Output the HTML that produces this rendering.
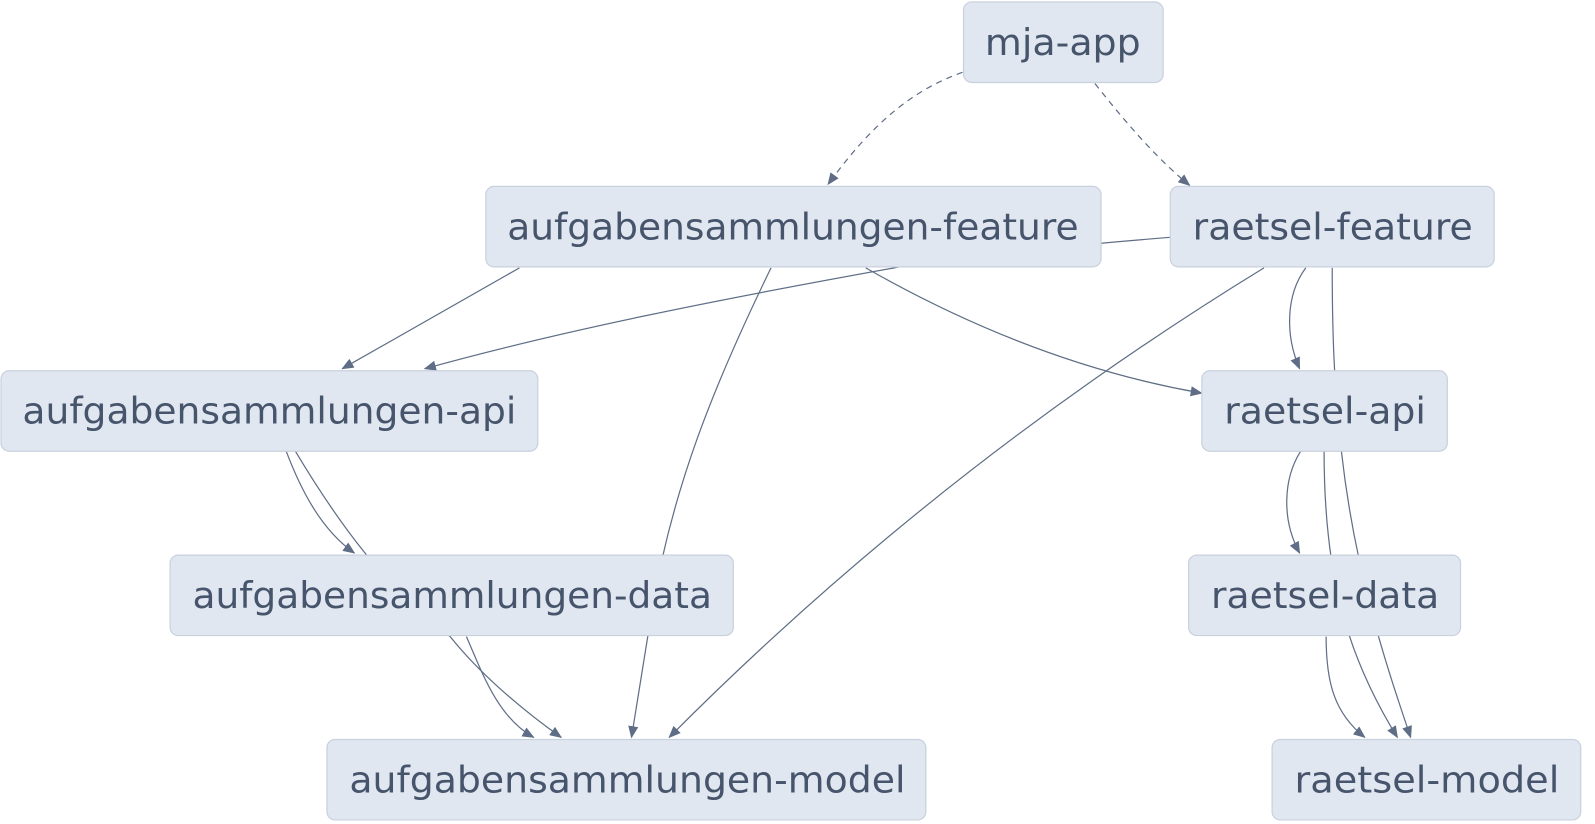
<!DOCTYPE html>
<html><head><meta charset="utf-8"><style>
html,body{margin:0;padding:0;background:#fff;width:1595px;height:824px;overflow:hidden}
svg{display:block}
text{font-family:"DejaVu Sans","Liberation Sans",sans-serif;font-size:36px;fill:#46546c}
</style></head><body>
<svg width="1595" height="824" viewBox="0 0 1566 809" preserveAspectRatio="none">
<defs>
<marker id="a" markerWidth="12" markerHeight="10" refX="11" refY="5" orient="auto" markerUnits="userSpaceOnUse">
<path d="M0,0 L12,5 L0,10 z" fill="#5f6e86"/></marker>
</defs>
<g fill="none" stroke="#5f6e86" stroke-width="1.2">
<path d="M945,71 C890,90 850,130 813,181" stroke-dasharray="6,5" marker-end="url(#a)"/>
<path d="M1075,82 C1105,120 1135,155 1168,182" stroke-dasharray="6,5" marker-end="url(#a)"/>
<path d="M510,263 L336,362" marker-end="url(#a)"/>
<path d="M1149,233 C1000,245 900,258 878,263 C700,295 550,325 417,362" marker-end="url(#a)"/>
<path d="M850,263 C950,320 1060,365 1180,386" marker-end="url(#a)"/>
<path d="M757,263 C700,380 660,480 640,600 L620,724" marker-end="url(#a)"/>
<path d="M1241,263 C1050,380 850,530 657,724" marker-end="url(#a)"/>
<path d="M1282,263 C1262,290 1262,330 1276,362" marker-end="url(#a)"/>
<path d="M1308,263 C1308,330 1310,380 1317,443 C1330,560 1360,650 1385,724" marker-end="url(#a)"/>
<path d="M1277,443 C1260,470 1258,510 1276,543" marker-end="url(#a)"/>
<path d="M1300,443 C1300,560 1320,640 1372,724" marker-end="url(#a)"/>
<path d="M1302,625 C1302,670 1310,700 1340,724" marker-end="url(#a)"/>
<path d="M281,443 C295,480 315,520 348,543" marker-end="url(#a)"/>
<path d="M290,443 C330,510 380,580 442,625 C470,660 510,695 551,724" marker-end="url(#a)"/>
<path d="M458,625 C475,665 490,705 524,724" marker-end="url(#a)"/>
</g>
<g fill="#e1e7f0" stroke="#c8d1de" stroke-width="1.2">
<rect x="946" y="2" width="196" height="79" rx="8"/>
<rect x="477" y="183" width="604" height="79" rx="8"/>
<rect x="1149" y="183" width="318" height="79" rx="8"/>
<rect x="1" y="364" width="527" height="79" rx="8"/>
<rect x="1180" y="364" width="241" height="79" rx="8"/>
<rect x="167" y="545" width="553" height="79" rx="8"/>
<rect x="1167" y="545" width="267" height="79" rx="8"/>
<rect x="321" y="726" width="588" height="79" rx="8"/>
<rect x="1249" y="726" width="303" height="79" rx="8"/>
</g>
<text x="967" y="54" textLength="153" lengthAdjust="spacingAndGlyphs">mja-app</text>
<text x="498" y="235" textLength="561" lengthAdjust="spacingAndGlyphs">aufgabensammlungen-feature</text>
<text x="1171" y="235" textLength="275" lengthAdjust="spacingAndGlyphs">raetsel-feature</text>
<text x="22" y="416" textLength="485" lengthAdjust="spacingAndGlyphs">aufgabensammlungen-api</text>
<text x="1202" y="416" textLength="198" lengthAdjust="spacingAndGlyphs">raetsel-api</text>
<text x="189" y="597" textLength="510" lengthAdjust="spacingAndGlyphs">aufgabensammlungen-data</text>
<text x="1189" y="597" textLength="224" lengthAdjust="spacingAndGlyphs">raetsel-data</text>
<text x="343" y="778" textLength="546" lengthAdjust="spacingAndGlyphs">aufgabensammlungen-model</text>
<text x="1271" y="778" textLength="260" lengthAdjust="spacingAndGlyphs">raetsel-model</text>
</svg>
</body></html>
